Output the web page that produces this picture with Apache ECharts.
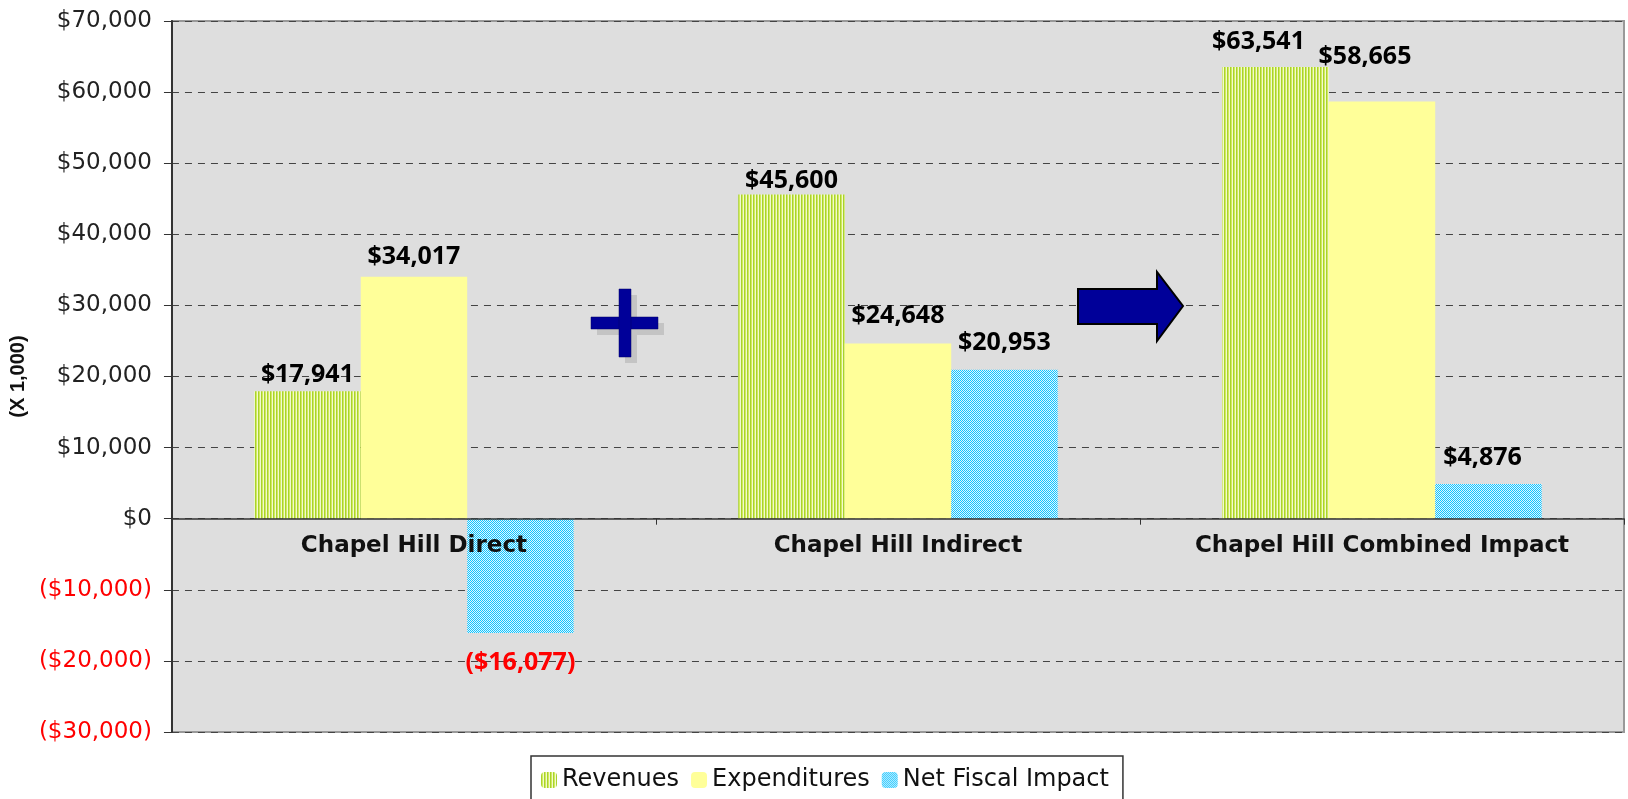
<!DOCTYPE html>
<html>
<head>
<meta charset="utf-8">
<script src="https://cdn.jsdelivr.net/npm/echarts@6/dist/echarts.min.js"></script>
<style>
html,body{margin:0;padding:0;background:#fff;}
#chart{width:1628px;height:799px;}
</style>
</head>
<body>
<div id="chart"></div>
<script>
// ---- data ----
const categories = ['Chapel Hill Direct', 'Chapel Hill Indirect', 'Chapel Hill Combined Impact'];
const seriesNames = ['Revenues', 'Expenditures', 'Net Fiscal Impact'];
const revenues = [17941, 45600, 63541];
const expenditures = [34017, 24648, 58665];
const netFiscal = [-16077, 20953, 4876];
const yMin = -30000, yMax = 70000, yStep = 10000;
const yAxisTitle = '(X 1,000)';

// ---- label nudges (style only) ----
const labelShift = {
  Revenues: [[0, 1], [0, 4], [-17, -8]],
  Expenditures: [[0, -2], [0, -10], [-17, -27]],
  'Net Fiscal Impact': [[0, 12], [0, -9], [-6, -9]]
};

function makePattern(w, h, painter) {
  const c = document.createElement('canvas');
  c.width = w; c.height = h;
  painter(c.getContext('2d'));
  return { image: c, repeat: 'repeat' };
}
const stripeGreen = makePattern(3, 1, ctx => {
  ctx.fillStyle = '#a8d22e'; ctx.fillRect(0, 0, 1, 1);
  ctx.fillStyle = '#d2ec5c'; ctx.fillRect(1, 0, 1, 1);
  ctx.fillStyle = '#f2f9d0'; ctx.fillRect(2, 0, 1, 1);
});
const checkCyan = makePattern(4, 4, ctx => {
  ctx.fillStyle = '#e0f6ff'; ctx.fillRect(0, 0, 4, 4);
  ctx.fillStyle = '#10c4ff';
  ctx.fillRect(0, 0, 1, 1); ctx.fillRect(2, 0, 1, 1);
  ctx.fillRect(1, 1, 1, 1); ctx.fillRect(3, 1, 1, 1);
  ctx.fillRect(0, 2, 1, 1); ctx.fillRect(2, 2, 1, 1);
  ctx.fillRect(1, 3, 1, 1); ctx.fillRect(3, 3, 1, 1);
});
const colors = { Revenues: stripeGreen, Expenditures: '#ffff99', 'Net Fiscal Impact': checkCyan };

function money(v) {
  const s = '$' + Math.abs(v).toLocaleString('en-US');
  return v < 0 ? '(' + s + ')' : s;
}

const dataFont = '"Open Sans", "Liberation Sans", sans-serif';
const axisFont = '"DejaVu Sans", sans-serif';

// grid geometry
const gridTop = 21, gridBottom = 67, plotH = 799 - gridTop - gridBottom;
const zeroOffset = -plotH * (0 - yMin) / (yMax - yMin);

function buildSeries(name, values) {
  return {
    name: name,
    type: 'bar',
    barGap: '0%',
    barCategoryGap: '34%',
    itemStyle: { color: colors[name] },
    data: values.map((v, i) => ({
      value: v,
      label: {
        position: v < 0 ? 'bottom' : 'top',
        offset: labelShift[name][i],
        color: v < 0 ? '#ff0000' : '#000'
      }
    })),
    label: {
      show: true,
      distance: 5,
      fontFamily: dataFont,
      fontWeight: 'bold',
      fontSize: 25,
      formatter: p => money(p.value)
    }
  };
}

const chart = echarts.init(document.getElementById('chart'), null, { renderer: 'canvas' });
chart.setOption({
  animation: false,
  backgroundColor: '#ffffff',
  grid: {
    left: 169, right: 4, top: gridTop, bottom: gridBottom,
    show: true, backgroundColor: '#dedede', borderColor: '#999', borderWidth: 2
  },
  legend: {
    data: seriesNames,
    left: 531, top: 756,
    padding: [12, 14, 30, 10],
    itemWidth: 16, itemHeight: 16, itemGap: 12,
    backgroundColor: '#fff', borderColor: '#333', borderWidth: 1.5, borderRadius: 0,
    textStyle: { fontFamily: axisFont, fontSize: 24, color: '#111' }
  },
  xAxis: {
    type: 'category',
    data: categories,
    position: 'bottom',
    offset: zeroOffset,
    z: 5,
    axisLine: { onZero: false, lineStyle: { color: '#333', width: 1.5 } },
    axisTick: { show: true, length: 6, lineStyle: { color: '#333' } },
    axisLabel: { interval: 0, hideOverlap: false, fontFamily: axisFont, fontSize: 23, fontWeight: 'bold', color: '#111', margin: 16 },
    splitLine: { show: false }
  },
  yAxis: {
    type: 'value',
    min: yMin, max: yMax, interval: yStep,
    name: yAxisTitle,
    nameLocation: 'middle', nameGap: 125, nameRotate: 90,
    nameTextStyle: { fontFamily: '"Liberation Sans", sans-serif', fontSize: 20, fontWeight: 'bold', color: '#111' },
    axisLine: { show: true, lineStyle: { color: '#333', width: 2 } },
    axisTick: { show: true, inside: false, length: 8, lineStyle: { color: '#333' } },
    axisLabel: {
      margin: 20,
      formatter: v => v < 0 ? '{n|' + money(v) + '}' : '{p|' + money(v) + '}',
      rich: {
        n: { color: '#ff0000', fontFamily: axisFont, fontSize: 23 },
        p: { color: '#222', fontFamily: axisFont, fontSize: 23 }
      }
    },
    splitLine: { show: true, lineStyle: { color: '#444', type: [7, 6], width: 1 } }
  },
  series: [
    buildSeries('Revenues', revenues),
    buildSeries('Expenditures', expenditures),
    buildSeries('Net Fiscal Impact', netFiscal)
  ],
  graphic: [
    // plus sign shadow + sign
    { type: 'rect', shape: { x: 597, y: 323, width: 67, height: 12 }, style: { fill: '#c4c4c4' }, z: 10 },
    { type: 'rect', shape: { x: 625, y: 295, width: 12, height: 68 }, style: { fill: '#c4c4c4' }, z: 10 },
    { type: 'rect', shape: { x: 591, y: 317, width: 67, height: 12 }, style: { fill: '#000099', stroke: '#000066', lineWidth: 0.5 }, z: 11 },
    { type: 'rect', shape: { x: 619, y: 289, width: 12, height: 68 }, style: { fill: '#000099', stroke: '#000066', lineWidth: 0.5 }, z: 11 },
    // arrow
    {
      type: 'polygon', z: 11,
      shape: { points: [[1078, 289], [1157, 289], [1157, 272], [1183, 306], [1157, 341], [1157, 324], [1078, 324]] },
      style: { fill: '#000099', stroke: '#000', lineWidth: 2 }
    }
  ]
});
</script>
</body>
</html>
